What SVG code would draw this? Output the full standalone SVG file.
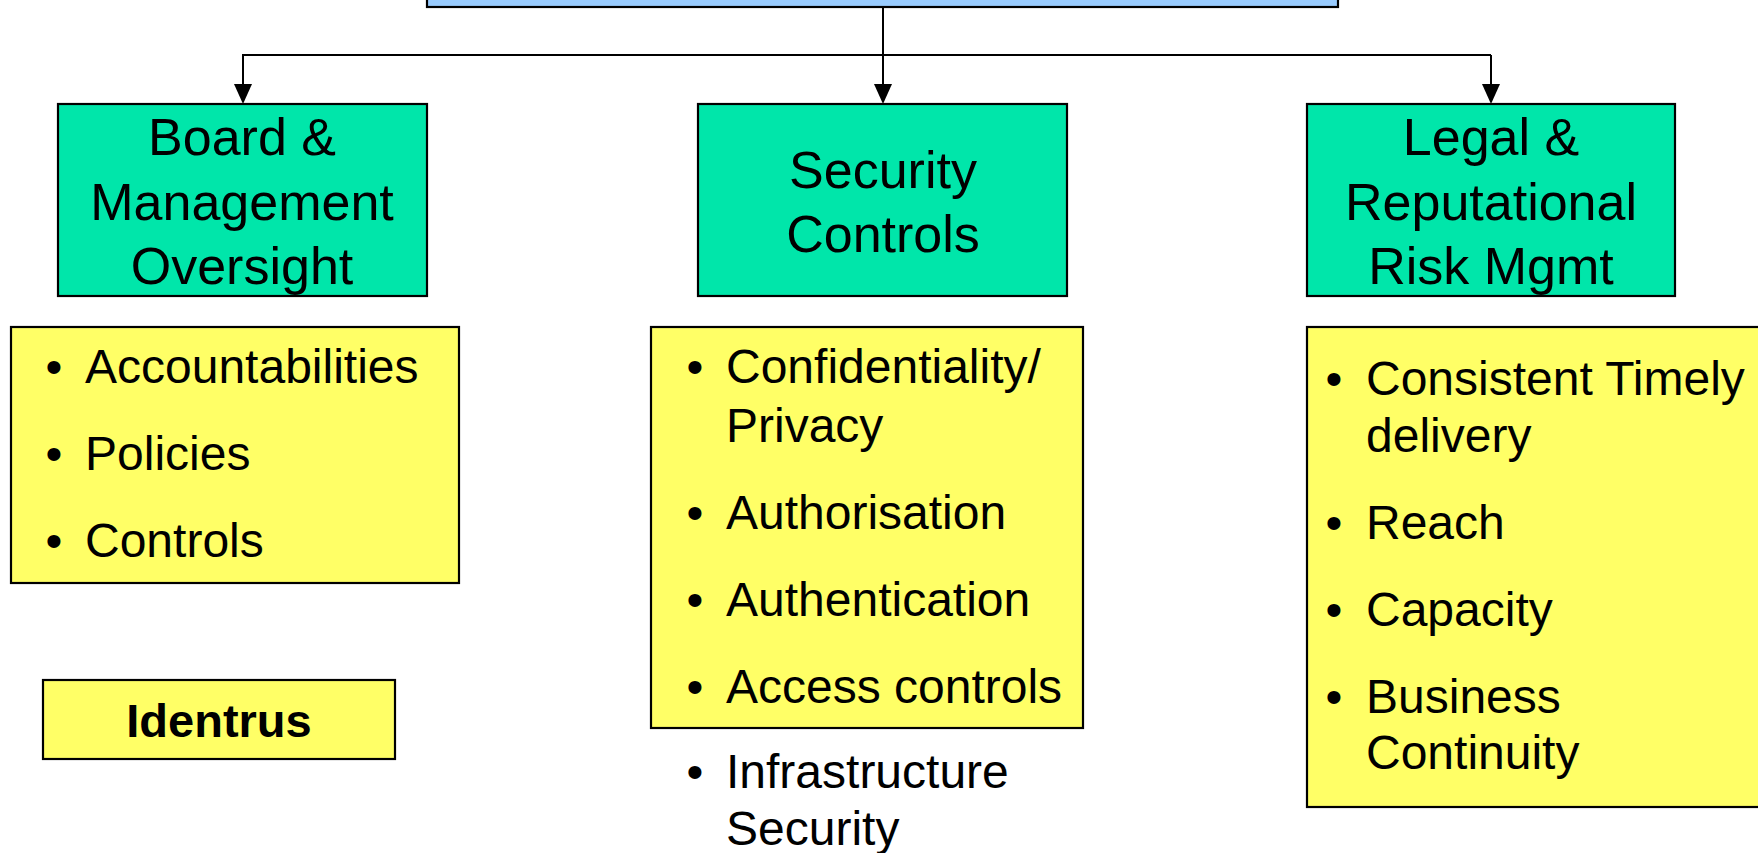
<svg xmlns="http://www.w3.org/2000/svg" width="1758" height="853" viewBox="0 0 1758 853">
  <style>
    .box { stroke: #000; stroke-width: 2.2; }
    .root { fill: #99CCFF; }
    .cat { fill: #00E6AA; }
    .list { fill: #FFFF66; }
    .head { font-family: "Liberation Sans", Arial, sans-serif; font-size: 52px; fill: #000; text-anchor: middle; }
    .item { font-family: "Liberation Sans", Arial, sans-serif; font-size: 48px; fill: #000; }
    .bullet { font-family: "Liberation Sans", Arial, sans-serif; font-size: 48px; fill: #000; text-anchor: middle; }
    .tag { font-family: "Liberation Sans", Arial, sans-serif; font-size: 47px; font-weight: bold; fill: #000; text-anchor: middle; }
    .wire { fill: none; stroke: #000; stroke-width: 2; }
    .head-arrow { fill: #000; }
  </style>

  <rect width="1758" height="853" fill="#fff"/>

  <!-- top-level box, mostly above the visible area -->
  <g id="root">
    <rect class="box root" x="427" y="-20" width="911" height="27"/>
  </g>

  <!-- tree connectors -->
  <g id="connectors">
    <line class="wire" x1="883" y1="7" x2="883" y2="55"/>
    <line class="wire" x1="242" y1="55" x2="1491" y2="55"/>
    <path class="wire" d="M243,55 V84"/>
    <path class="wire" d="M883,55 V84"/>
    <path class="wire" d="M1491,55 V84"/>
    <path class="head-arrow" d="M234,84 L252,84 L243,104 Z"/>
    <path class="head-arrow" d="M874,84 L892,84 L883,104 Z"/>
    <path class="head-arrow" d="M1482,84 L1500,84 L1491,104 Z"/>
  </g>

  <g id="board">
    <rect class="box cat" x="58" y="104" width="369" height="192"/>
    <text class="head" x="242" y="155">Board &amp;</text>
    <text class="head" x="242" y="220">Management</text>
    <text class="head" x="242" y="284">Oversight</text>
  </g>

  <g id="security">
    <rect class="box cat" x="698" y="104" width="369" height="192"/>
    <text class="head" x="883" y="188">Security</text>
    <text class="head" x="883" y="252">Controls</text>
  </g>

  <g id="legal">
    <rect class="box cat" x="1307" y="104" width="368" height="192"/>
    <text class="head" x="1491" y="155">Legal &amp;</text>
    <text class="head" x="1491" y="220">Reputational</text>
    <text class="head" x="1491" y="284">Risk Mgmt</text>
  </g>

  <g id="board-items">
    <rect class="box list" x="11" y="327" width="448" height="256"/>
    <text class="bullet" x="54" y="383">•</text>
    <text class="item" x="85" y="383">Accountabilities</text>
    <text class="bullet" x="54" y="470">•</text>
    <text class="item" x="85" y="470">Policies</text>
    <text class="bullet" x="54" y="557">•</text>
    <text class="item" x="85" y="557">Controls</text>
  </g>

  <g id="identrus">
    <rect class="box list" x="43" y="680" width="352" height="79"/>
    <text class="tag" x="219" y="737">Identrus</text>
  </g>

  <g id="security-items">
    <rect class="box list" x="651" y="327" width="432" height="401"/>
    <text class="bullet" x="695" y="383">•</text>
    <text class="item" x="726" y="383">Confidentiality/</text>
    <text class="item" x="726" y="442">Privacy</text>
    <text class="bullet" x="695" y="529">•</text>
    <text class="item" x="726" y="529">Authorisation</text>
    <text class="bullet" x="695" y="616">•</text>
    <text class="item" x="726" y="616">Authentication</text>
    <text class="bullet" x="695" y="703">•</text>
    <text class="item" x="726" y="703">Access controls</text>
    <text class="bullet" x="695" y="788">•</text>
    <text class="item" x="726" y="788">Infrastructure</text>
    <text class="item" x="726" y="845">Security</text>
  </g>

  <g id="legal-items">
    <rect class="box list" x="1307" y="327" width="470" height="480"/>
    <text class="bullet" x="1334" y="395">•</text>
    <text class="item" x="1366" y="395">Consistent Timely</text>
    <text class="item" x="1366" y="452">delivery</text>
    <text class="bullet" x="1334" y="539">•</text>
    <text class="item" x="1366" y="539">Reach</text>
    <text class="bullet" x="1334" y="626">•</text>
    <text class="item" x="1366" y="626">Capacity</text>
    <text class="bullet" x="1334" y="713">•</text>
    <text class="item" x="1366" y="713">Business</text>
    <text class="item" x="1366" y="769">Continuity</text>
  </g>
</svg>
